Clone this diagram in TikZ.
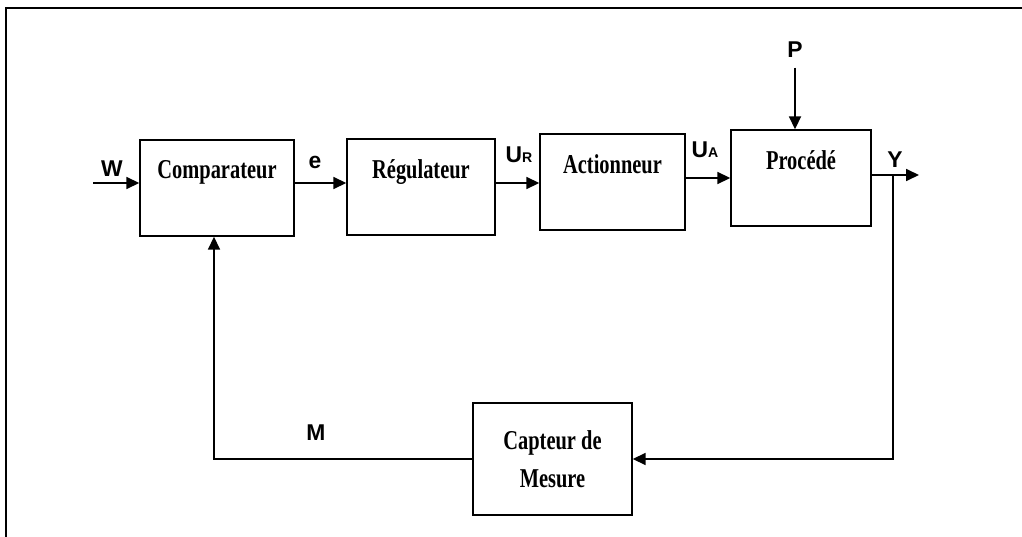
\documentclass[tikz,border=0pt]{standalone}
\usepackage{fontspec}
\setmainfont{Liberation Serif}
\newfontfamily\boxfont[FakeStretch=0.75]{Liberation Serif}
\newfontfamily\lblfont{Liberation Sans}
\usetikzlibrary{arrows.meta}

\begin{document}
\begin{tikzpicture}[x=1cm,y=1cm,line width=.8pt,
  bloc/.style={draw,inner xsep=0pt,inner ysep=0pt,text height=.78cm,text depth=1.14cm,
    font=\boxfont\bfseries\fontsize{15.5}{18}\selectfont},
  sig/.style={line width=1pt,-{Triangle[length=2.6mm,width=2.4mm]}},
  lbl/.style={font=\lblfont\bfseries\fontsize{13}{13}\selectfont,anchor=base,inner sep=0pt}]
\useasboundingbox (0,0) rectangle (20.44,-10.74);
\draw[line width=1.1pt] (20.44,-.16)--(.12,-.16)--(.12,-10.74);
\node[bloc,minimum width=3.08cm] (comp) at (4.34,-3.76) {Comparateur};
\node[bloc,minimum width=2.96cm] (reg) at (8.42,-3.74) {Régulateur};
\node[bloc,minimum width=2.9cm] (act) at (12.25,-3.64) {Actionneur};
\node[bloc,minimum width=2.8cm] (proc) at (16.02,-3.56) {Procédé};
\node[draw,minimum width=3.18cm,minimum height=2.24cm,align=center,
  font=\boxfont\bfseries\fontsize{15.5}{21.5}\selectfont] (capt) at (11.05,-9.18) {Capteur de\\Mesure};
\node[lbl] (lw) at (2.24,-3.52) {W};
\node[lbl] (le) at (6.3,-3.36) {e};
\node[lbl] (lur) at (10.38,-3.24) {U{\fontsize{8}{8}\selectfont R}};
\node[lbl] (lua) at (14.1,-3.14) {U{\fontsize{8}{8}\selectfont A}};
\node[lbl] (ly) at (17.9,-3.34) {Y};
\node[lbl] (lp) at (15.9,-1.16) {P};
\node[lbl] (lm) at (6.32,-8.8) {M};
\coordinate (w) at (1.86,-3.66);
\coordinate (ke) at ([yshift=1mm]comp.east);
\coordinate (kr) at ([yshift=.8mm]reg.east);
\coordinate (ka) at ([yshift=.8mm]act.east);
\coordinate (ky) at ([yshift=.6mm]proc.east);
\coordinate (y) at (18.38,-3.5);
\coordinate (br) at (17.86,-3.5);
\coordinate (kp) at ([yshift=-1.8mm]lp.south);
\draw[sig] (w)--(w -| comp.west);
\draw[sig] (ke)--(ke -| reg.west);
\draw[sig] (kr)--(kr -| act.west);
\draw[sig] (ka)--(ka -| proc.west);
\draw[sig] (ky)--(y);
\draw[sig] (kp)--(kp |- proc.north);
\draw[sig] (br) |- (capt.east);
\draw[sig] (capt.west) -| ([xshift=-.6mm]comp.south);
\end{tikzpicture}
\end{document}
